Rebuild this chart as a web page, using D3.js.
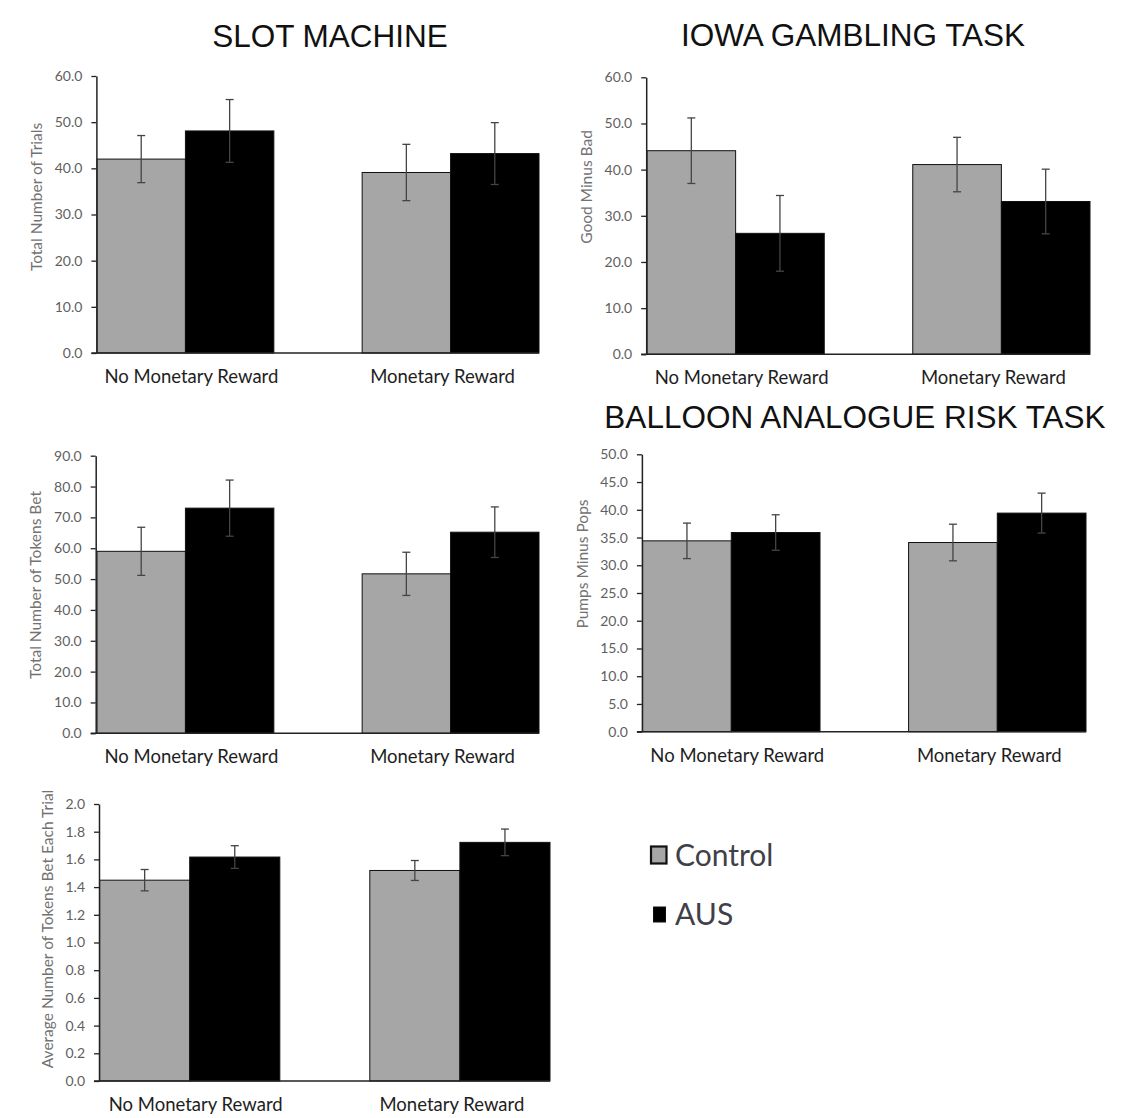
<!DOCTYPE html>
<html>
<head>
<meta charset="utf-8">
<script src="https://cdn.jsdelivr.net/npm/d3@7"></script>
<style>
  body { margin: 0; background: #fff; }
  svg { display: block; }
  .tick text { font-family: Lato, 'Open Sans', sans-serif; font-size: 14px; fill: #5f5f5f; }
</style>
</head>
<body>
<svg id="chart" width="1123" height="1118"></svg>
<script>
// categories and groups shared by every panel
const categories = ['No Monetary Reward', 'Monetary Reward'];
const groups = ['Control', 'AUS'];
const groupColors = ['#a6a6a6', '#000000'];

// values per category: [Control, AUS]; errors are half-heights of the bars
const slotTrials = [[42.0, 48.1], [39.1, 43.2]];
const slotTrialsErr = [[5.1, 6.8], [6.1, 6.7]];
const slotTokens = [[59.0, 73.0], [51.7, 65.2]];
const slotTokensErr = [[7.8, 9.1], [7.0, 8.2]];
const slotAvgBet = [[1.45, 1.617], [1.52, 1.723]];
const slotAvgBetErr = [[0.077, 0.082], [0.072, 0.096]];
const igtScore = [[44.1, 26.2], [41.1, 33.1]];
const igtScoreErr = [[7.1, 8.2], [5.9, 7.0]];
const bartScore = [[34.4, 35.9], [34.1, 39.4]];
const bartScoreErr = [[3.2, 3.2], [3.3, 3.6]];

// tick labels
const ticks60 = [0, 10, 20, 30, 40, 50, 60];
const ticks90 = [0, 10, 20, 30, 40, 50, 60, 70, 80, 90];
const ticks50 = [0, 5, 10, 15, 20, 25, 30, 35, 40, 45, 50];
const ticks2 = [0, 0.2, 0.4, 0.6, 0.8, 1.0, 1.2, 1.4, 1.6, 1.8, 2.0];

const titles = [
  { text: 'SLOT MACHINE', x: 330, y: 47 },
  { text: 'IOWA GAMBLING TASK', x: 853, y: 46 },
  { text: 'BALLOON ANALOGUE RISK TASK', x: 855, y: 428 },
];

// layout of each panel
const panels = [
  { values: slotTrials, err: slotTrialsErr, ticks: ticks60, ylabel: 'Total Number of Trials',
    axisX: 96.4, x0: 97, x1: 539, y0: 76, y1: 353, labX: 37, labY: 197 },
  { values: igtScore, err: igtScoreErr, ticks: ticks60, ylabel: 'Good Minus Bad',
    axisX: 646.2, x0: 647, x1: 1090, y0: 77.3, y1: 354.3, labX: 587, labY: 187 },
  { values: slotTokens, err: slotTokensErr, ticks: ticks90, ylabel: 'Total Number of Tokens Bet',
    axisX: 95.7, x0: 97, x1: 539, y0: 455.7, y1: 733.3, labX: 36, labY: 585 },
  { values: bartScore, err: bartScoreErr, ticks: ticks50, ylabel: 'Pumps Minus Pops',
    axisX: 641.9, x0: 642.6, x1: 1086, y0: 454.3, y1: 731.7, labX: 583, labY: 564 },
  { values: slotAvgBet, err: slotAvgBetErr, ticks: ticks2, ylabel: 'Average Number of Tokens Bet Each Trial',
    axisX: 99, x0: 99.6, x1: 550, y0: 804, y1: 1081, labX: 47.5, labY: 929 },
];

const svg = d3.select('#chart');
const textFont = "Lato, 'Open Sans', sans-serif";

svg.selectAll('.title')
  .data(titles)
  .join('text')
    .attr('class', 'title')
    .attr('x', (d) => d.x)
    .attr('y', (d) => d.y)
    .attr('text-anchor', 'middle')
    .attr('font-family', "'Liberation Sans', Arial, sans-serif")
    .attr('font-size', 31.5)
    .attr('fill', '#111')
    .text((d) => d.text);

panels.forEach((p) => {
  const g = svg.append('g');
  const y = d3.scaleLinear()
    .domain([0, p.ticks[p.ticks.length - 1]])
    .range([p.y1, p.y0]);
  const x = d3.scaleBand()
    .domain(categories)
    .range([p.x0, p.x1])
    .paddingInner(0.333)
    .paddingOuter(0);
  const xs = d3.scaleBand()
    .domain(groups)
    .range([0, x.bandwidth()]);

  const rows = [];
  categories.forEach((c, i) => {
    groups.forEach((s, j) => {
      rows.push({ cat: c, group: s, j, v: p.values[i][j], e: p.err[i][j] });
    });
  });

  // bars
  g.selectAll('.bar')
    .data(rows)
    .join('rect')
      .attr('class', 'bar')
      .attr('x', (d) => x(d.cat) + xs(d.group))
      .attr('y', (d) => y(d.v))
      .attr('width', xs.bandwidth())
      .attr('height', (d) => y(0) - y(d.v))
      .attr('fill', (d) => groupColors[d.j])
      .attr('stroke', '#111')
      .attr('stroke-width', 1);

  // error bars
  const eb = g.selectAll('.err')
    .data(rows)
    .join('g')
      .attr('class', 'err')
      .attr('stroke', '#444')
      .attr('stroke-width', 1.3);
  const cx = (d) => x(d.cat) + xs(d.group) + xs.bandwidth() / 2;
  eb.append('line')
    .attr('x1', cx).attr('x2', cx)
    .attr('y1', (d) => y(d.v + d.e))
    .attr('y2', (d) => y(d.v - d.e));
  eb.append('line')
    .attr('x1', (d) => cx(d) - 4).attr('x2', (d) => cx(d) + 4)
    .attr('y1', (d) => y(d.v + d.e)).attr('y2', (d) => y(d.v + d.e));
  eb.append('line')
    .attr('x1', (d) => cx(d) - 4).attr('x2', (d) => cx(d) + 4)
    .attr('y1', (d) => y(d.v - d.e)).attr('y2', (d) => y(d.v - d.e));

  // y axis
  const ax = g.append('g')
    .attr('transform', `translate(${p.axisX},0)`)
    .call(d3.axisLeft(y)
      .tickValues(p.ticks)
      .tickFormat(d3.format('.1f'))
      .tickSize(5)
      .tickSizeOuter(0)
      .tickPadding(9));
  ax.select('.domain').attr('stroke', '#222').attr('stroke-width', 1.5);
  ax.selectAll('.tick line').attr('stroke', '#222').attr('stroke-width', 1.3);

  // baseline
  g.append('line')
    .attr('x1', p.axisX - 5)
    .attr('x2', p.x1)
    .attr('y1', y(0))
    .attr('y2', y(0))
    .attr('stroke', '#222')
    .attr('stroke-width', 1.5);

  // category labels
  const labelShift = [6, -8];
  g.selectAll('.cat')
    .data(categories)
    .join('text')
      .attr('class', 'cat')
      .attr('x', (d, i) => x(d) + x.bandwidth() / 2 + labelShift[i])
      .attr('y', y(0) + 30)
      .attr('text-anchor', 'middle')
      .attr('font-family', textFont)
      .attr('font-size', 18.5)
      .attr('fill', '#1e1e1e')
      .text((d) => d);

  // y title
  g.append('text')
    .attr('transform', `translate(${p.labX},${p.labY}) rotate(-90)`)
    .attr('text-anchor', 'middle')
    .attr('dy', '0.35em')
    .attr('font-family', textFont)
    .attr('font-size', 15.5)
    .attr('fill', '#727272')
    .text(p.ylabel);
});

// legend
const legend = svg.append('g');
const legendRows = groups.map((name, i) => ({ name, i }));
legend.selectAll('rect')
  .data(legendRows)
  .join('rect')
    .attr('x', (d) => (d.i === 0 ? 651 : 653.5))
    .attr('y', (d) => (d.i === 0 ? 846.5 : 907))
    .attr('width', (d) => (d.i === 0 ? 15.5 : 12))
    .attr('height', (d) => (d.i === 0 ? 17 : 15))
    .attr('fill', (d) => groupColors[d.i])
    .attr('stroke', '#111')
    .attr('stroke-width', (d) => (d.i === 0 ? 2.2 : 1));
legend.selectAll('text')
  .data(legendRows)
  .join('text')
    .attr('x', 675)
    .attr('y', (d) => (d.i === 0 ? 866 : 925))
    .attr('font-family', textFont)
    .attr('font-size', 30)
    .attr('fill', '#404048')
    .text((d) => d.name);
</script>
</body>
</html>
